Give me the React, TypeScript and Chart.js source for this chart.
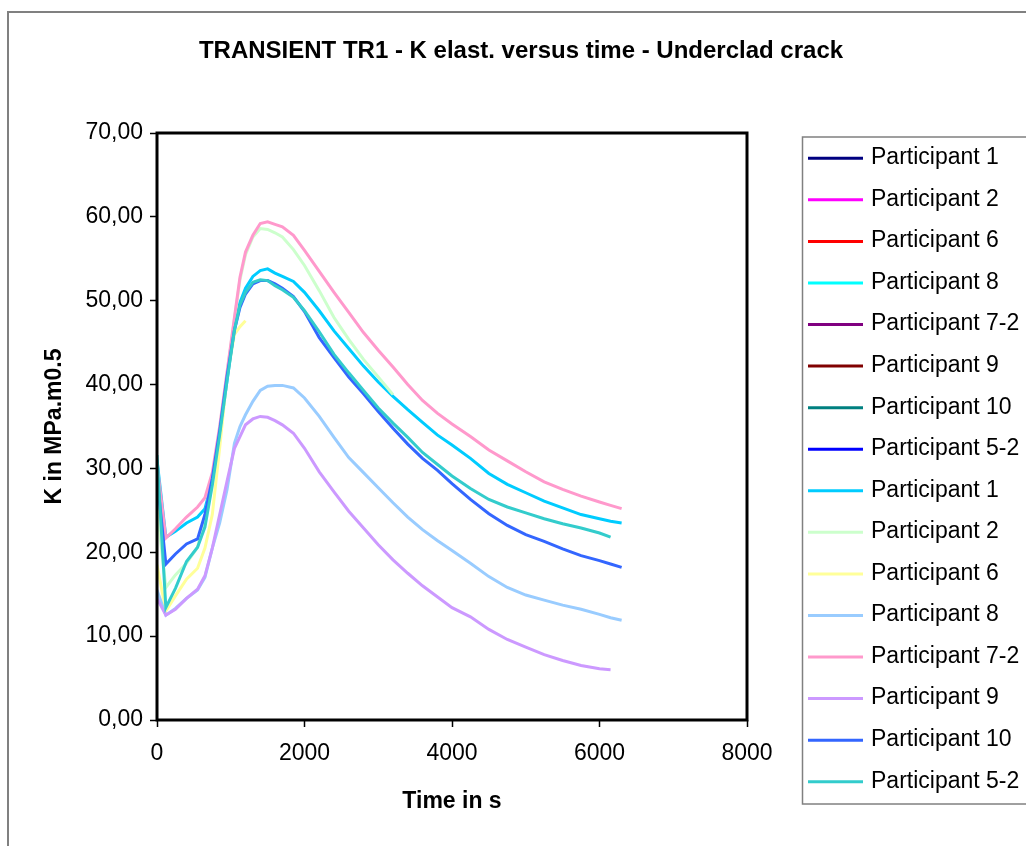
import React, { useEffect, useRef } from "react";
import { Chart, registerables } from "chart.js";

Chart.register(...registerables);

// Time grid (s) shared by every participant curve
const TIME_S = [
  0, 120, 250, 400, 550, 650, 750, 850, 950, 1050,
  1125, 1200, 1300, 1400, 1500, 1600, 1700, 1850, 2000,
  2200, 2400, 2600, 2800, 3000, 3200, 3400, 3600, 3800, 4000,
  4250, 4500, 4750, 5000, 5250, 5500, 5750, 6000, 6150, 6300,
];

// K elast. (MPa.m0.5) per participant, second submission set
const K_P1 = [
  31.0, 21.8, 22.5, 23.5, 24.2, 25.2, 28.5, 34.0, 40.5, 46.8,
  49.8, 51.5, 52.9, 53.6, 53.8, 53.3, 52.9, 52.3, 51.0,
  48.8, 46.4, 44.3, 42.2, 40.3, 38.6, 37.0, 35.5, 34.0, 32.8,
  31.2, 29.4, 28.1, 27.1, 26.1, 25.3, 24.5, 24.0, 23.7, 23.5,
];
const K_P2 = [
  25.3, 15.8, 17.3, 18.7, 20.6, 24.2, 29.0, 34.8, 41.3, 47.8,
  52.5, 55.5, 57.6, 58.6, 58.5, 58.1, 57.6, 56.1, 54.2,
  51.2, 48.0, 45.4, 43.0, 40.9, 38.8, null, null, null, null,
  null, null, null, null, null, null, null, null, null, null,
];
const K_P6 = [
  18.5, 13.0, 14.8, 16.8, 18.1, 20.5, 24.5, 32.5, 41.0, 46.0,
  46.9, 47.6, null, null, null, null, null, null, null,
  null, null, null, null, null, null, null, null, null, null,
  null, null, null, null, null, null, null, null, null, null,
];
const K_P8 = [
  15.5, 12.5, 13.3, 14.5, 15.5, 17.0, 20.5, 23.5, 27.5, 33.0,
  35.0, 36.4, 38.0, 39.3, 39.8, 39.9, 39.9, 39.6, 38.4,
  36.2, 33.7, 31.3, 29.5, 27.7, 25.9, 24.2, 22.7, 21.4, 20.2,
  18.7, 17.1, 15.8, 14.9, 14.3, 13.7, 13.2, 12.6, 12.2, 11.9,
];
const K_P7_2 = [
  30.5, 21.7, 22.8, 24.2, 25.4, 26.5, 29.5, 35.0, 41.5, 48.0,
  52.8, 55.8, 57.8, 59.2, 59.4, 59.1, 58.8, 57.8, 56.0,
  53.5, 51.0, 48.6, 46.2, 44.1, 42.1, 40.0, 38.1, 36.6, 35.3,
  33.8, 32.2, 30.9, 29.6, 28.4, 27.5, 26.7, 26.0, 25.6, 25.2,
];
const K_P9 = [
  14.5, 12.5, 13.2, 14.5, 15.6, 17.2, 20.5, 24.5, 28.5, 32.4,
  33.8, 35.2, 35.9, 36.2, 36.1, 35.7, 35.2, 34.2, 32.4,
  29.6, 27.2, 24.9, 22.9, 20.9, 19.1, 17.5, 16.0, 14.7, 13.4,
  12.3, 10.8, 9.6, 8.7, 7.8, 7.1, 6.5, 6.1, 6.0, null,
];
const K_P10 = [
  29.0, 18.6, 19.8, 21.0, 21.6, 24.5, 28.8, 34.5, 41.0, 46.5,
  49.2, 50.8, 52.0, 52.4, 52.4, 52.0, 51.5, 50.5, 48.7,
  45.6, 43.2, 40.9, 38.9, 36.8, 34.8, 32.9, 31.2, 29.8, 28.2,
  26.3, 24.6, 23.2, 22.1, 21.3, 20.4, 19.6, 19.0, 18.6, 18.2,
];
const K_P5_2 = [
  31.6, 13.4, 15.7, 18.9, 20.6, 23.0, 28.0, 34.0, 40.5, 46.5,
  49.5, 51.0, 52.2, 52.5, 52.4, 51.8, 51.3, 50.4, 48.8,
  46.3, 43.6, 41.4, 39.3, 37.2, 35.4, 33.7, 31.9, 30.5, 29.1,
  27.6, 26.3, 25.4, 24.7, 24.0, 23.4, 22.9, 22.3, 21.8, null,
];

const SERIES_NAMES = [
  "Participant 1", "Participant 2", "Participant 6", "Participant 8",
  "Participant 7-2", "Participant 9", "Participant 10", "Participant 5-2",
];
const FIRST_SET_COLORS = [
  "#000080", "#FF00FF", "#FF0000", "#00FFFF",
  "#800080", "#800000", "#008080", "#0000FF",
];
const SECOND_SET_COLORS = [
  "#00CCFF", "#CCFFCC", "#FFFF99", "#99CCFF",
  "#FF99CC", "#CC99FF", "#3366FF", "#33CCCC",
];
const SECOND_SET_VALUES = [K_P1, K_P2, K_P6, K_P8, K_P7_2, K_P9, K_P10, K_P5_2];

const Y_TICKS = [0, 10, 20, 30, 40, 50, 60, 70];
const X_TICKS = [0, 2000, 4000, 6000, 8000];

const TITLE = "TRANSIENT TR1 - K elast. versus time - Underclad crack";
const FONT = '"Liberation Sans", Arial, sans-serif';

const W = 1026;
const H = 846;

function buildDatasets() {
  const sets: any[] = [];
  SERIES_NAMES.forEach((name, i) => {
    sets.push({ label: name, data: [], borderColor: FIRST_SET_COLORS[i] });
  });
  SERIES_NAMES.forEach((name, i) => {
    sets.push({
      label: name,
      data: TIME_S.map((t, k) => ({ x: t, y: SECOND_SET_VALUES[i][k] })),
      borderColor: SECOND_SET_COLORS[i],
    });
  });
  return sets.map((ds, i) => ({
    ...ds,
    borderWidth: 3,
    pointRadius: 0,
    fill: false,
    tension: 0,
    spanGaps: false,
    order: 100 - i, // later series are painted on top
  }));
}

// Frame, title, plot-area border and the boxed legend
const decorPlugin = {
  id: "decor",
  beforeDraw(chart: any) {
    const ctx = chart.ctx;
    ctx.save();
    ctx.fillStyle = "#ffffff";
    ctx.fillRect(0, 0, chart.width, chart.height);
    ctx.restore();
  },
  afterDraw(chart: any) {
    const ctx = chart.ctx as CanvasRenderingContext2D;
    const { left, top, right, bottom } = chart.chartArea;
    ctx.save();

    ctx.strokeStyle = "#808080";
    ctx.lineWidth = 2;
    ctx.strokeRect(8, 12, W + 40, H + 40);

    ctx.fillStyle = "#000";
    ctx.font = `bold 24px ${FONT}`;
    ctx.textAlign = "center";
    ctx.textBaseline = "middle";
    ctx.fillText(TITLE, 521, 51);

    ctx.strokeStyle = "#000";
    ctx.lineWidth = 3;
    ctx.strokeRect(left, top, right - left, bottom - top);

    // legend
    const boxL = 802.5;
    const boxT = 137;
    const boxB = 804;
    ctx.strokeStyle = "#808080";
    ctx.lineWidth = 1.5;
    ctx.strokeRect(boxL, boxT, 300, boxB - boxT);

    const rowTop = 158.3;
    const pitch = 41.56;
    ctx.font = `23px ${FONT}`;
    ctx.textAlign = "left";
    ctx.textBaseline = "middle";
    chart.data.datasets.forEach((ds: any, i: number) => {
      const y = rowTop + i * pitch;
      ctx.strokeStyle = ds.borderColor;
      ctx.lineWidth = 3;
      ctx.beginPath();
      ctx.moveTo(808, y);
      ctx.lineTo(863, y);
      ctx.stroke();
      ctx.fillStyle = "#000";
      ctx.fillText(ds.label, 871, y - 0.5);
    });

    ctx.restore();
  },
};

export default function App() {
  const ref = useRef<HTMLCanvasElement | null>(null);

  useEffect(() => {
    if (!ref.current) return;
    const tickGrid = {
      drawOnChartArea: false,
      drawTicks: true,
      tickLength: 7,
      tickColor: "#000",
      tickWidth: 1.5,
    };
    const chart = new Chart(ref.current, {
      type: "line",
      data: { datasets: buildDatasets() },
      options: {
        responsive: false,
        animation: false,
        parsing: true,
        layout: { padding: { left: 8, top: 133, right: W - 747, bottom: 0 } },
        plugins: {
          legend: { display: false },
          title: { display: false },
          tooltip: { enabled: false },
        },
        scales: {
          x: {
            type: "linear",
            min: X_TICKS[0],
            max: X_TICKS[X_TICKS.length - 1],
            afterBuildTicks: (s: any) => {
              s.ticks = X_TICKS.map((v) => ({ value: v }));
            },
            ticks: {
              color: "#000",
              font: { size: 23, family: FONT },
              padding: 13,
              maxRotation: 0,
              callback: (v: any) => String(v),
            },
            grid: tickGrid,
            border: { display: false },
            title: {
              display: true,
              text: "Time in s",
              color: "#000",
              font: { size: 23, weight: "bold", family: FONT },
              padding: { top: 0, bottom: 31 },
            },
            afterFit: (s: any) => {
              s.height = H - 720;
            },
          },
          y: {
            type: "linear",
            min: Y_TICKS[0],
            max: Y_TICKS[Y_TICKS.length - 1],
            afterBuildTicks: (s: any) => {
              s.ticks = Y_TICKS.map((v) => ({ value: v }));
            },
            ticks: {
              color: "#000",
              font: { size: 23, family: FONT },
              padding: 7,
              callback: (v: any) => Number(v).toFixed(2).replace(".", ","),
            },
            grid: tickGrid,
            border: { display: false },
            title: {
              display: true,
              text: "K in MPa.m0.5",
              color: "#000",
              font: { size: 23, weight: "bold", family: FONT },
              padding: { top: 33, bottom: 0 },
            },
            afterFit: (s: any) => {
              s.width = 157 - 8;
            },
          },
        },
      } as any,
      plugins: [decorPlugin],
    });
    return () => chart.destroy();
  }, []);

  return (
    <div style={{ position: "absolute", left: 0, top: 0, width: W, height: H, background: "#fff" }}>
      <canvas ref={ref} width={W} height={H} style={{ display: "block" }} />
    </div>
  );
}
